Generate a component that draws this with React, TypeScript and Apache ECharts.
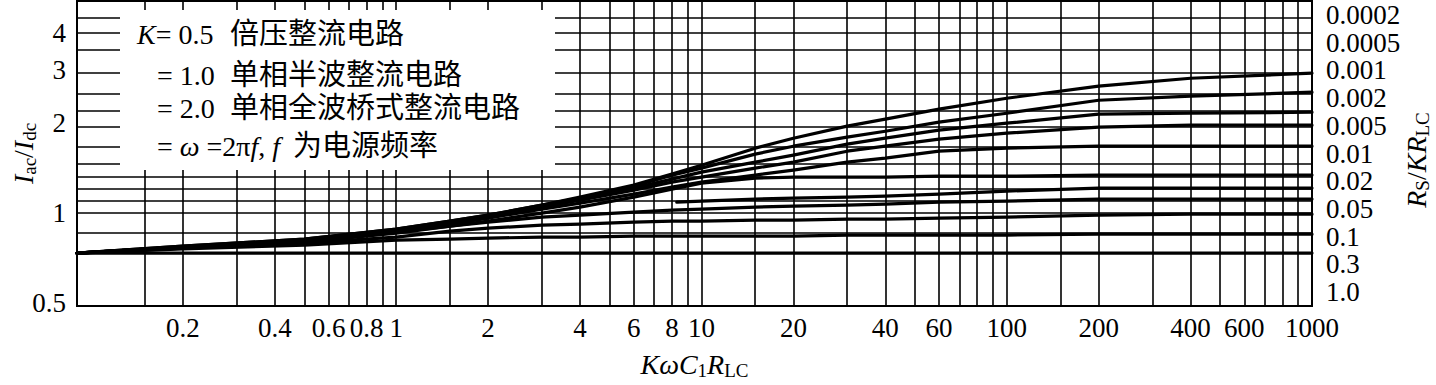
import React, { useEffect, useRef } from "react";
import * as echarts from "echarts";

// ---------- data ----------
const xTickLabels = [0.2, 0.4, 0.6, 0.8, 1, 2, 4, 6, 8, 10, 20, 40, 60, 100, 200, 400, 600, 1000];
const yTickLabels = [4, 3, 2, 1, 0.5];
const rightLabels = ["0.0002", "0.0005", "0.001", "0.002", "0.005", "0.01", "0.02", "0.05", "0.1", "0.3", "1.0"];

const xGridValues = [
  0.15, 0.2, 0.3, 0.4, 0.5, 0.6, 0.7, 0.8, 0.9, 1, 1.5, 2, 3, 4, 5, 6, 7, 8, 9, 10,
  15, 20, 30, 40, 50, 60, 70, 80, 90, 100, 150, 200, 300, 400, 500, 600, 700, 800, 900,
];
const yGridValues = [4.5, 4, 3.5, 2.95, 2.5, 2.2, 1.94, 1.66, 1.46, 1.32, 1.21, 1.1, 1, 0.86, 0.736];

const xSamples = [0.09, 0.2, 0.5, 1, 1.5, 2, 3, 4, 6, 8, 10, 15, 20, 30, 40, 60, 100, 200, 400, 1000];
const curve0_0002 = [0.736, 0.776, 0.819, 0.884, 0.94, 0.985, 1.063, 1.131, 1.24, 1.349, 1.445, 1.647, 1.778, 1.95, 2.058, 2.222, 2.417, 2.651, 2.818, 2.929];
const curve0_0005 = [0.736, 0.776, 0.819, 0.884, 0.94, 0.985, 1.063, 1.122, 1.23, 1.339, 1.413, 1.573, 1.672, 1.792, 1.876, 2.011, 2.154, 2.38, 2.455, 2.531];
const curve0_001 = [0.736, 0.77, 0.813, 0.878, 0.933, 0.977, 1.055, 1.114, 1.212, 1.298, 1.37, 1.479, 1.561, 1.698, 1.778, 1.891, 1.995, 2.138, 2.154, 2.171];
const curve0_002 = [0.736, 0.77, 0.813, 0.871, 0.926, 0.97, 1.047, 1.105, 1.193, 1.269, 1.318, 1.413, 1.479, 1.609, 1.672, 1.765, 1.848, 1.935, 1.965, 1.965];
const curve0_005 = [0.736, 0.77, 0.813, 0.871, 0.919, 0.962, 1.031, 1.08, 1.157, 1.221, 1.269, 1.339, 1.391, 1.479, 1.525, 1.609, 1.647, 1.672, 1.672, 1.672];
const curve0_01 = [0.736, 0.77, 0.807, 0.864, 0.905, 0.94, 1.0, 1.047, 1.131, 1.202, 1.259, 1.308, 1.318, 1.318, 1.318, 1.328, 1.328, 1.339, 1.339, 1.339];
const curve0_05 = [0.736, 0.77, 0.8, 0.858, 0.905, 0.933, 0.97, 0.985, 1.008, 1.023, 1.031, 1.047, 1.055, 1.063, 1.072, 1.088, 1.096, 1.114, 1.114, 1.114];
const curve0_1 = [0.736, 0.764, 0.794, 0.832, 0.871, 0.891, 0.912, 0.919, 0.933, 0.94, 0.94, 0.948, 0.948, 0.955, 0.955, 0.962, 0.97, 0.985, 0.992, 0.992];
const curve0_3 = [0.736, 0.759, 0.782, 0.813, 0.819, 0.825, 0.832, 0.832, 0.838, 0.838, 0.838, 0.838, 0.838, 0.845, 0.845, 0.845, 0.845, 0.851, 0.851, 0.851];

const fragmentX = [8.3, 10, 15, 20, 30, 40, 60, 100, 200, 400, 1000];
const curve0_02 = [1.088, 1.096, 1.114, 1.122, 1.131, 1.139, 1.157, 1.184, 1.212, 1.212, 1.212];

const flatX = [0.09, 1, 10, 100, 1000];
const curve1_0 = [0.736, 0.736, 0.736, 0.736, 0.736];

const legendKeys = ["{i|K}= 0.5", "= 1.0", "= 2.0", "= {i|ω} =2π{i|f}, {i|f}"];
const legendDescs = ["倍压整流电路", "单相半波整流电路", "单相全波桥式整流电路", "为电源频率"];
const rightAxisTitle = "{i|R}{s|S}/{i|KR}{s|LC}";

// ---------- styling ----------
const SERIF = "'Liberation Serif', 'Times New Roman', 'Noto Sans CJK SC', serif";
const MIXED = "'Liberation Serif', 'Noto Sans CJK SC', serif";

const nameStyle = {
  fontFamily: SERIF,
  fontSize: 28,
  color: "#000",
  lineHeight: 32,
  rich: {
    i: { fontFamily: SERIF, fontStyle: "italic", fontSize: 28, lineHeight: 32, color: "#000" },
    s: { fontFamily: SERIF, fontSize: 19, lineHeight: 14, verticalAlign: "bottom", color: "#000" },
  },
};

function fmt(v: number): string {
  return String(Number(v.toPrecision(6)));
}

export default function App() {
  const ref = useRef<HTMLDivElement>(null);

  useEffect(() => {
    if (!ref.current) return;
    const chart = echarts.init(ref.current, undefined, { renderer: "svg" });

    const curveSeries = [
      { name: "0.0002", xs: xSamples, ys: curve0_0002 },
      { name: "0.0005", xs: xSamples, ys: curve0_0005 },
      { name: "0.001", xs: xSamples, ys: curve0_001 },
      { name: "0.002", xs: xSamples, ys: curve0_002 },
      { name: "0.005", xs: xSamples, ys: curve0_005 },
      { name: "0.01", xs: xSamples, ys: curve0_01 },
      { name: "0.02", xs: fragmentX, ys: curve0_02 },
      { name: "0.05", xs: xSamples, ys: curve0_05 },
      { name: "0.1", xs: xSamples, ys: curve0_1 },
      { name: "0.3", xs: xSamples, ys: curve0_3 },
      { name: "1.0", xs: flatX, ys: curve1_0 },
    ].map((c) => ({
      type: "line",
      name: c.name,
      data: c.xs.map((x, i) => [x, c.ys[i]]),
      smooth: false,
      showSymbol: false,
      symbol: "none",
      silent: true,
      z: 3,
      lineStyle: { color: "#000", width: 3.2, join: "round", cap: "round" },
    }));

    const option: any = {
      animation: false,
      backgroundColor: "#fff",
      grid: {
        left: 77,
        right: 124,
        top: 1,
        bottom: 79,
        show: true,
        borderColor: "#000",
        borderWidth: 2,
        backgroundColor: "transparent",
        containLabel: false,
        outerBoundsMode: "none",
      },
      xAxis: {
        type: "log",
        logBase: 10,
        min: 0.09,
        max: 1000,
        axisLine: { show: false },
        axisTick: { show: false },
        axisLabel: { show: false },
        splitLine: { show: false },
        name: "{i|KωC}{s|1}{i|R}{s|LC}",
        nameLocation: "middle",
        nameGap: 42,
        nameTextStyle: nameStyle,
      },
      yAxis: [
        {
          type: "log",
          logBase: 10,
          min: 0.49,
          max: 5.1,
          axisLine: { show: false },
          axisTick: { show: false },
          axisLabel: { show: false },
          splitLine: { show: false },
          name: "{i|I}{s|ac}/{i|I}{s|dc}",
          nameLocation: "middle",
          nameRotate: 90,
          nameGap: 38,
          nameTextStyle: nameStyle,
        },
        {
          type: "category",
          position: "right",
          data: rightLabels,
          inverse: true,
          axisLine: { show: false },
          axisTick: { show: false },
          splitLine: { show: false },
          axisLabel: { fontFamily: SERIF, fontSize: 27, color: "#000", margin: 14, interval: 0 },
        },
      ],
      series: [
        {
          type: "line",
          name: "grid",
          data: [],
          silent: true,
          z: 1,
          markLine: {
            silent: true,
            animation: false,
            symbol: ["none", "none"],
            label: { show: false },
            emphasis: { disabled: true },
            lineStyle: { color: "#000", width: 1.6, type: "solid" },
            data: [
              ...xGridValues.map((v) => ({ xAxis: v })),
              ...yGridValues.map((v) => ({ yAxis: v })),
            ],
          },
        },
        ...curveSeries,
      ],
    };
    chart.setOption(option);

    // tick labels placed through the axes' own scales
    const xLabelEls = xTickLabels.map((v) => ({
      type: "text",
      silent: true,
      x: chart.convertToPixel({ xAxisIndex: 0 }, v) as number,
      y: 328,
      style: {
        text: fmt(v),
        fontFamily: SERIF,
        fontSize: 27,
        fill: "#000",
        align: "center",
        verticalAlign: "middle",
      },
    }));
    const yLabelEls = yTickLabels.map((v) => ({
      type: "text",
      silent: true,
      x: 66,
      y: chart.convertToPixel({ yAxisIndex: 0 }, v) as number,
      style: {
        text: fmt(v),
        fontFamily: SERIF,
        fontSize: 27,
        fill: "#000",
        align: "right",
        verticalAlign: "middle",
      },
    }));

    const rightTitleEl = {
      type: "text",
      silent: true,
      x: 1416,
      y: 160,
      rotation: Math.PI / 2,
      style: {
        text: rightAxisTitle,
        fontFamily: SERIF,
        fontSize: 28,
        fill: "#000",
        align: "center",
        verticalAlign: "middle",
        rich: {
          i: { fontFamily: SERIF, fontStyle: "italic", fontSize: 28, lineHeight: 32, fill: "#000" },
          s: { fontFamily: SERIF, fontSize: 19, lineHeight: 14, verticalAlign: "bottom", fill: "#000" },
        },
      },
    };

    const keyPos = [
      [137, 34],
      [157, 75],
      [157, 108],
      [157, 146],
    ];
    const descPos = [
      [230, 34],
      [230, 75],
      [230, 108],
      [293, 146],
    ];
    const richLegend = {
      i: { fontFamily: SERIF, fontStyle: "italic", fontSize: 28, fill: "#000" },
    };
    const legendEls: any[] = [
      {
        type: "rect",
        silent: true,
        z: 10,
        shape: { x: 120, y: 10, width: 435, height: 160 },
        style: { fill: "#fff" },
      },
    ];
    legendKeys.forEach((t, i) => {
      legendEls.push({
        type: "text",
        silent: true,
        z: 11,
        x: keyPos[i][0],
        y: keyPos[i][1],
        style: {
          text: t,
          fontFamily: SERIF,
          fontSize: 28,
          fill: "#000",
          align: "left",
          verticalAlign: "middle",
          rich: richLegend,
        },
      });
    });
    legendDescs.forEach((t, i) => {
      legendEls.push({
        type: "text",
        silent: true,
        z: 11,
        x: descPos[i][0],
        y: descPos[i][1],
        style: {
          text: t,
          fontFamily: MIXED,
          fontSize: 29,
          fill: "#000",
          align: "left",
          verticalAlign: "middle",
        },
      });
    });

    chart.setOption({
      graphic: { elements: [...legendEls, ...xLabelEls, ...yLabelEls, rightTitleEl] },
    });

    return () => chart.dispose();
  }, []);

  return (
    <div
      ref={ref}
      style={{ position: "fixed", left: 0, top: 0, width: 1436, height: 385, background: "#fff" }}
    />
  );
}
